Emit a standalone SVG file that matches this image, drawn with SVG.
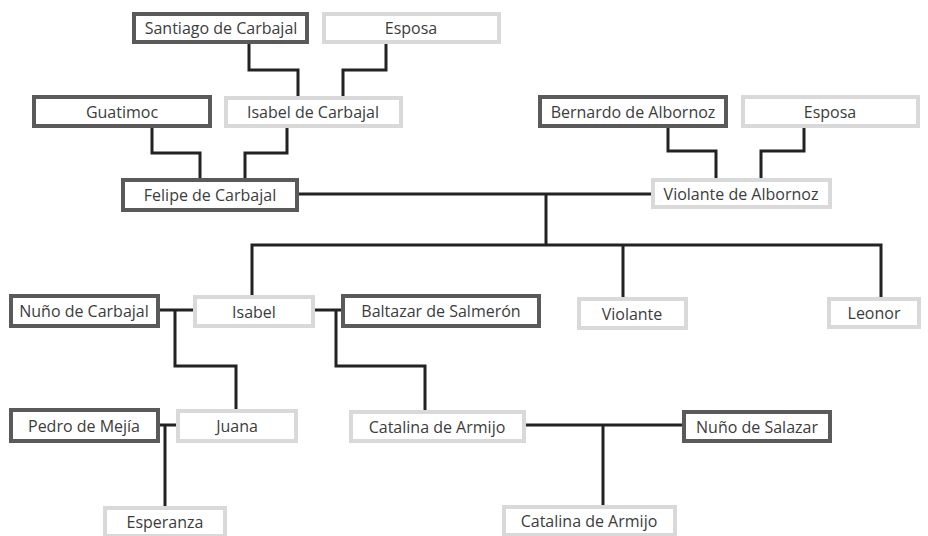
<svg xmlns="http://www.w3.org/2000/svg" width="928" height="536" viewBox="0 0 928 536">
<style>
.d{fill:#fff;stroke:#5a5a5a;stroke-width:4}
.l{fill:#fff;stroke:#d9d9d9;stroke-width:4}
text{font-family:"Open Sans","Liberation Sans",sans-serif;font-size:16px;fill:#3c3c3c;text-anchor:middle;dominant-baseline:central}
#connectors path{fill:none;stroke:#222;stroke-width:3}
</style>
<rect width="928" height="536" fill="#fff"/>
<g id="connectors">
<path d="M249,44 V70 H298 V96"/>
<path d="M386,44 V70 H343 V96"/>
<path d="M152,128 V153 H200 V178"/>
<path d="M287,128 V153 H245 V178"/>
<path d="M668,128 V151 H716 V178"/>
<path d="M804,128 V151 H761 V178"/>
<path d="M299,194 H651"/>
<path d="M546,194 V245"/>
<path d="M252,295 V245 H881 V297"/>
<path d="M623,245 V297"/>
<path d="M160,310 H193"/>
<path d="M175,310 V366 H236 V409"/>
<path d="M315,310 H341"/>
<path d="M336,310 V366 H425 V410"/>
<path d="M160,425 H176"/>
<path d="M165,425 V506"/>
<path d="M526,425 H682"/>
<path d="M603,425 V505"/>
</g>
<g id="n1"><rect class="d" x="134" y="14" width="173" height="28"/><text x="221" y="28">Santiago de Carbajal</text></g>
<g id="n2"><rect class="l" x="324" y="14" width="175" height="28"/><text x="411" y="28">Esposa</text></g>
<g id="n3"><rect class="d" x="34" y="97" width="176" height="29"/><text x="122" y="111.5">Guatimoc</text></g>
<g id="n4"><rect class="l" x="226" y="98" width="175" height="28"/><text x="313" y="112">Isabel de Carbajal</text></g>
<g id="n5"><rect class="d" x="540" y="97" width="186" height="29"/><text x="633" y="111.5">Bernardo de Albornoz</text></g>
<g id="n6"><rect class="l" x="743" y="97" width="175" height="29"/><text x="830" y="111.5">Esposa</text></g>
<g id="n7"><rect class="d" x="123" y="180" width="174" height="30"/><text x="210" y="195">Felipe de Carbajal</text></g>
<g id="n8"><rect class="l" x="653" y="180" width="177" height="27"/><text x="741" y="194">Violante de Albornoz</text></g>
<g id="n9"><rect class="d" x="11" y="296" width="147" height="30"/><text x="84" y="311">Nuño de Carbajal</text></g>
<g id="n10"><rect class="l" x="195" y="297" width="118" height="29"/><text x="254" y="311.5">Isabel</text></g>
<g id="n11"><rect class="d" x="343" y="296" width="196" height="30"/><text x="441" y="311">Baltazar de Salmerón</text></g>
<g id="n12"><rect class="l" x="579" y="299" width="107" height="29"/><text x="632" y="313.5">Violante</text></g>
<g id="n13"><rect class="l" x="829" y="299" width="90" height="28"/><text x="874" y="313">Leonor</text></g>
<g id="n14"><rect class="d" x="11" y="410" width="147" height="31"/><text x="84" y="425.5">Pedro de Mejía</text></g>
<g id="n15"><rect class="l" x="178" y="411" width="118" height="30"/><text x="237" y="426">Juana</text></g>
<g id="n16"><rect class="l" x="351" y="412" width="173" height="29"/><text x="437" y="426.5">Catalina de Armijo</text></g>
<g id="n17"><rect class="d" x="684" y="412" width="146" height="29"/><text x="757" y="426.5">Nuño de Salazar</text></g>
<g id="n18"><rect class="l" x="105" y="508" width="120" height="28"/><text x="165" y="522">Esperanza</text></g>
<g id="n19"><rect class="l" x="504" y="507" width="171" height="28"/><text x="589" y="521">Catalina de Armijo</text></g>
</svg>
